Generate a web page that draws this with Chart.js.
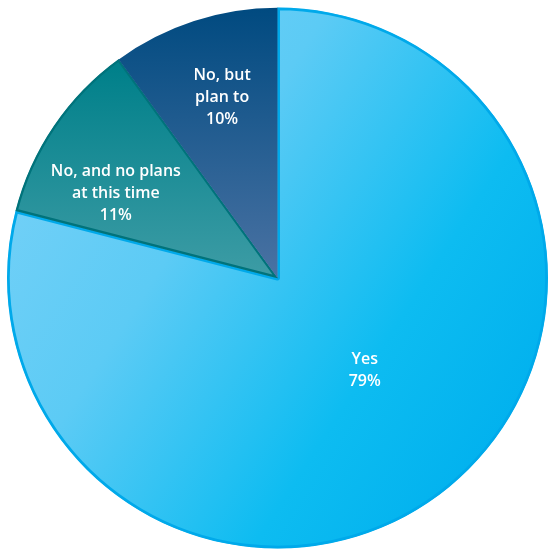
<!DOCTYPE html>
<html>
<head>
<meta charset="utf-8">
<script src="https://cdn.jsdelivr.net/npm/chart.js@4/dist/chart.umd.min.js"></script>
<style>
  html, body { margin: 0; padding: 0; background: #fff; }
  #wrap { width: 548px; height: 554px; }
</style>
</head>
<body>
<div id="wrap"><canvas id="pie" width="548" height="554"></canvas></div>
<script>
// survey answers, clockwise from 12 o'clock
const categories = ['Yes', 'No, and no plans at this time', 'No, but plan to'];
const shares = [79, 11, 10];
const labelLines = [
    ['Yes', '79%'],
    ['No, and no plans', 'at this time', '11%'],
    ['No, but', 'plan to', '10%']
];

// where each label sits: fraction of the radius, nudge from the slice's mid angle (deg)
const labelSpots = [
    { r: 0.47, turn: -5.5 },
    { r: 0.675, turn: -6.5 },
    { r: 0.70, turn: 1 }
];

function sliceFill(ctx) {
    const chart = ctx.chart;
    const area = chart.chartArea;
    if (!area) return '#00aeef';
    const c = chart.ctx;
    let g;
    if (ctx.dataIndex === 0) {
        g = c.createLinearGradient(area.left + 40, area.top + 120, area.right - 20, area.bottom - 110);
        g.addColorStop(0, '#72d0f7');
        g.addColorStop(0.3, '#5ccbf5');
        g.addColorStop(0.7, '#0dbcf1');
        g.addColorStop(1, '#00b0ee');
    } else if (ctx.dataIndex === 1) {
        g = c.createLinearGradient(0, area.top + 60, 0, area.top + 270);
        g.addColorStop(0, '#00808a');
        g.addColorStop(1, '#3d9ca5');
    } else {
        g = c.createLinearGradient(0, area.top, 0, area.top + 270);
        g.addColorStop(0, '#004a80');
        g.addColorStop(1, '#4a72a3');
    }
    return g;
}

const sliceText = {
    id: 'sliceText',
    afterDatasetsDraw(chart) {
        const c = chart.ctx;
        const arcs = chart.getDatasetMeta(0).data;
        arcs.forEach((arc, i) => {
            const p = arc.getProps(['x', 'y', 'startAngle', 'endAngle', 'outerRadius']);
            const a = (p.startAngle + p.endAngle) / 2 + labelSpots[i].turn * Math.PI / 180;
            const r = p.outerRadius * labelSpots[i].r;
            const cx = p.x + Math.cos(a) * r;
            const cy = p.y + Math.sin(a) * r;
            const lines = labelLines[i];
            const lh = 22;
            c.save();
            c.translate(cx, cy);
            c.scale(0.94, 1); // a touch narrower, closer to a condensed face
            c.fillStyle = '#ffffff';
            c.font = '600 17px "Open Sans"';
            c.textAlign = 'center';
            c.textBaseline = 'middle';
            lines.forEach((t, k) => {
                c.fillText(t, 0, (k - (lines.length - 1) / 2) * lh);
            });
            c.restore();
        });
    }
};

new Chart(document.getElementById('pie'), {
    type: 'pie',
    data: {
        labels: categories,
        datasets: [{
            data: shares,
            backgroundColor: sliceFill,
            borderColor: ['#00a9ea', '#00737b', '#1d5a8c'],
            borderWidth: [2.5, 2, 0],
            borderAlign: 'inner'
        }]
    },
    options: {
        responsive: false,
        animation: false,
        layout: { padding: { left: 7, top: 7, right: 0, bottom: 5 } },
        plugins: {
            legend: { display: false },
            tooltip: { enabled: false }
        }
    },
    plugins: [sliceText]
});
</script>
</body>
</html>
